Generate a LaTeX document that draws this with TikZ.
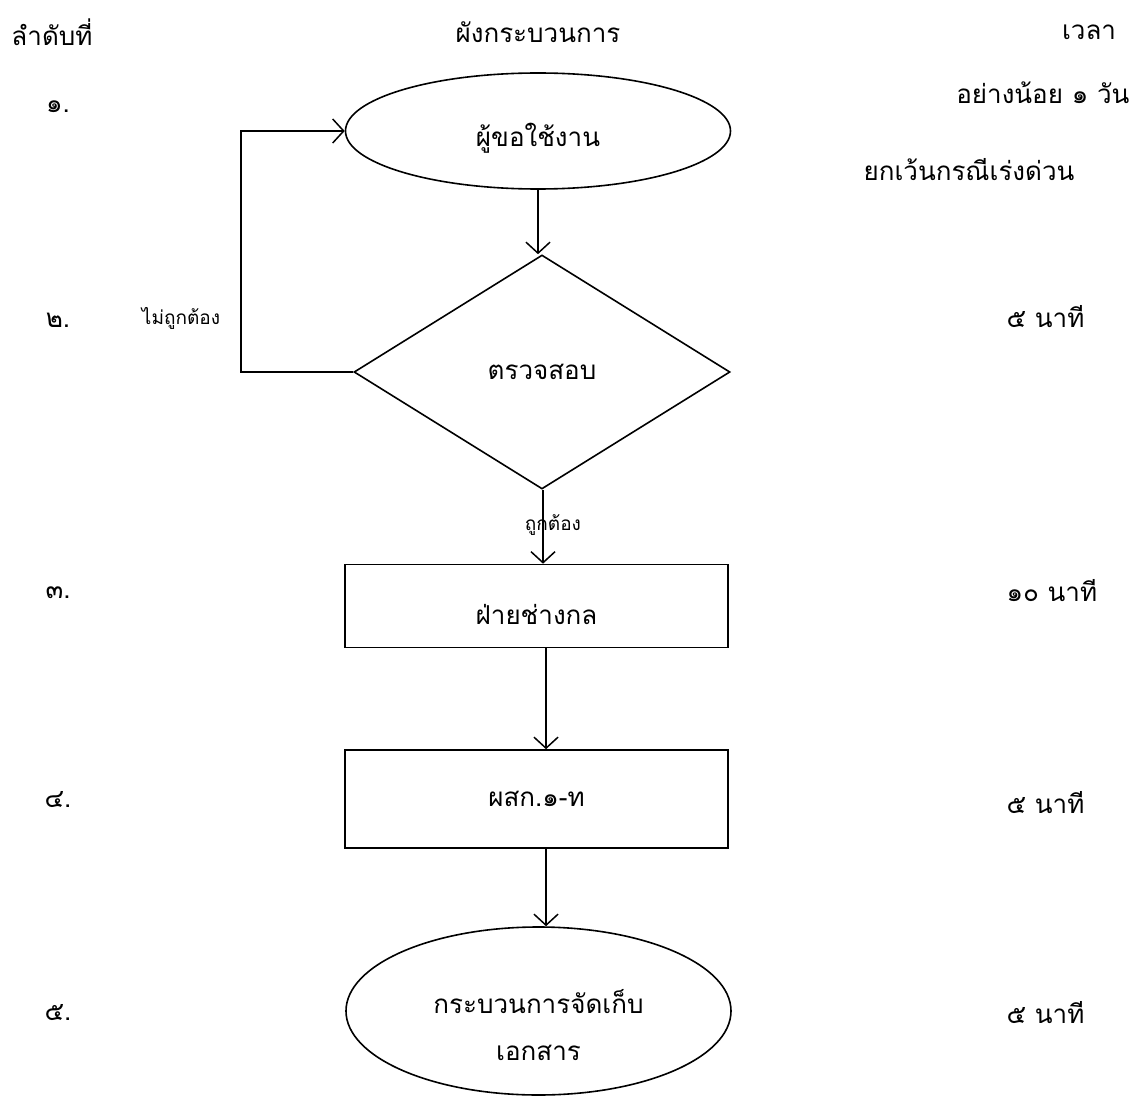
\documentclass[tikz,border=0pt]{standalone}
\usepackage{fontspec}
\setmainfont[Script=Thai]{Loma}
\usetikzlibrary{shapes.geometric,arrows.meta}
% lower the visible text inside a node without changing its box
\newcommand{\lowertext}[2]{\raisebox{-#1}[\height][\depth]{#2}}
\begin{document}
\begin{tikzpicture}[x=1pt,y=-1pt,
  every node/.style={font=\fontsize{26pt}{31pt}\selectfont},
  small/.style={font=\fontsize{19pt}{23pt}\selectfont},
  shapeline/.style={draw, line width=1.6pt, inner sep=0pt},
  term/.style={shapeline, ellipse},
  proc/.style={shapeline, rectangle},
  decis/.style={shapeline, diamond},
  flow/.style={line width=1.6pt, -{Straight Barb[length=11pt,width=24pt,line width=1.5pt]}}]
\useasboundingbox (0,0) rectangle (1146,1097);

% header row
\node (hnum)  at (52,32)   {ลำดับที่};
\node (hflow) at (538,32)  {ผังกระบวนการ};
\node (htime) at (1089,32) {เวลา};

% step numbers
\node (n1) at (58,107)  {๑.};
\node (n2) at (58,320)  {๒.};
\node (n3) at (58,593)  {๓.};
\node (n4) at (58,800)  {๔.};
\node (n5) at (58,1013) {๕.};

% times
\node[anchor=east] (t1a) at (1133,93) {อย่างน้อย ๑ วัน};
\node[anchor=west] (t1b) at (860,170) {ยกเว้นกรณีเร่งด่วน};
\node[anchor=west] (t2) at (1003,317)  {๕ นาที};
\node[anchor=west] (t3) at (1003,591)  {๑๐ นาที};
\node[anchor=west] (t4) at (1003,803)  {๕ นาที};
\node[anchor=west] (t5) at (1003,1013) {๕ นาที};

% flowchart shapes
\node[term, minimum width=385pt, minimum height=116pt] (e1) at (538,131) {\lowertext{7pt}{ผู้ขอใช้งาน}};
\node[decis, minimum width=376pt, minimum height=234pt] (dec) at (542,372) {ตรวจสอบ};
\node[proc, minimum width=383pt, minimum height=83pt] (r1) at (536.5,606) {\lowertext{8pt}{ฝ่ายช่างกล}};
\node[proc, minimum width=383pt, minimum height=98pt] (r2) at (536.5,799) {ผสก.๑-ท};
\node[term, minimum width=385pt, minimum height=168pt, align=center] (e2) at (538.5,1011)
  {\lowertext{14pt}{\shortstack{กระบวนการจัดเก็บ\\[29pt]เอกสาร}}};

% connectors
\draw[flow] (e1.south) -- (e1.south |- dec.north);
\draw[flow] ([xshift=1pt]dec.south) -- ([xshift=1pt]dec.south |- r1.north);
\draw[flow] ([xshift=9.5pt]r1.south) -- ([xshift=9.5pt]r1.south |- r2.north);
\draw[flow] ([xshift=9.5pt]r2.south) -- ([xshift=9.5pt]r2.south |- e2.north);
\coordinate (fb) at (241,372);
\draw[flow] (dec.west) -- (fb) |- (e1.west);

% branch labels
\node[small] (no)  at (181,318) {ไม่ถูกต้อง};
\node[small] (yes) at (553,525) {ถูกต้อง};
\end{tikzpicture}
\end{document}
